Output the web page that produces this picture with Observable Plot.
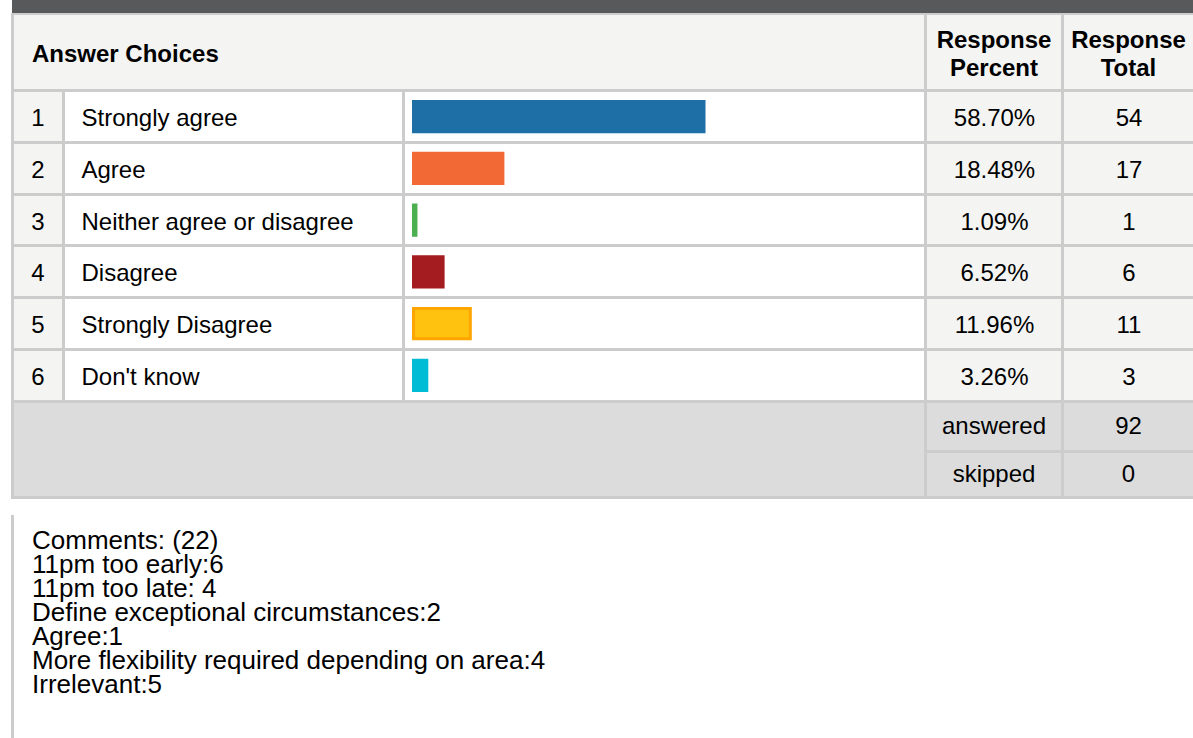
<!DOCTYPE html>
<html><head><meta charset="utf-8">
<script src="https://cdn.jsdelivr.net/npm/d3@7"></script>
<script src="https://cdn.jsdelivr.net/npm/@observablehq/plot@0.6"></script>
<style>
html,body{margin:0;padding:0;background:#fff;}
#page{position:relative;width:1193px;height:738px;overflow:hidden;font-family:"Liberation Sans",Arial,Helvetica,sans-serif;color:#000;}
.abs{position:absolute;box-sizing:border-box;}
.cell{display:flex;align-items:center;justify-content:center;text-align:center;font-size:24px;line-height:28px;}
.bold{font-weight:bold;padding-top:4px;}
#chart{position:absolute;left:0;top:0;}
#comments{position:absolute;left:32px;top:528px;font-size:26px;line-height:24px;white-space:pre;}
</style></head>
<body><div id="page"></div>
<script>
// ---- data ----
const choiceNumbers = [1, 2, 3, 4, 5, 6];
const choiceLabels = ["Strongly agree", "Agree", "Neither agree or disagree", "Disagree", "Strongly Disagree", "Don't know"];
const responsePercent = [58.70, 18.48, 1.09, 6.52, 11.96, 3.26];
const responseTotal = [54, 17, 1, 6, 11, 3];
const barColors = ["#1d6fa5", "#f26935", "#4caf50", "#a51c20", "#ffc20e", "#00bcd4"];
const barBorders = [null, null, null, null, "#ffa500", null];
const headerLabels = ["Answer Choices", "Response\nPercent", "Response\nTotal"];
const summaryLabels = ["answered", "skipped"];
const summaryValues = [92, 0];
const commentsTitle = "Comments: (22)";
const comments = ["11pm too early:6", "11pm too late: 4", "Define exceptional circumstances:2", "Agree:1", "More flexibility required depending on area:4", "Irrelevant:5"];

const rows = choiceLabels.map((label, i) => ({
  num: choiceNumbers[i], label, pct: responsePercent[i], total: responseTotal[i], border: barBorders[i]
}));

// ---- layout (table chrome) ----
const page = document.getElementById("page");
function box(l, t, r, b, bg, cls, text) {
  const d = document.createElement("div");
  d.className = "abs" + (cls ? " " + cls : "");
  Object.assign(d.style, {left: l + "px", top: t + "px", width: (r - l) + "px", height: (b - t) + "px", background: bg});
  if (text !== undefined) d.innerText = text;
  page.appendChild(d);
  return d;
}
const W = 1193;
const lineC = "#cccccc", light = "#f4f4f3", summaryBg = "#dcdcdc";
const cols = [[14, 62], [65, 402], [405, 924], [927, 1061], [1064, W]];
const rowTop = 90.5, rowStep = 51.75, rowsBottom = rowTop + rowStep * choiceLabels.length;

box(12, 0, W, 13, "#58595b");            // dark top strip
box(11, 13, W, 499, lineC);               // grid line backdrop
// header
const hA = box(14, 15, 924, 89, light, "cell bold");
hA.style.justifyContent = "flex-start"; hA.style.paddingLeft = "18px"; hA.innerText = headerLabels[0];
box(927, 15, 1061, 89, light, "cell bold", headerLabels[1]);
box(1064, 15, W, 89, light, "cell bold", headerLabels[2]);
// body cells
choiceLabels.forEach((_, i) => {
  const t = rowTop + rowStep * i + 1.5, b = rowTop + rowStep * (i + 1) - 1.5;
  [light, "#fff", "#fff", light, light].forEach((bg, c) => box(cols[c][0], t, cols[c][1], b, bg));
});
// summary
const sTop = rowsBottom + 1.5, sMid = 451, sBot = 496;
box(14, sTop, 924, sBot, summaryBg);
box(927, sTop, 1061, sMid - 1.5, summaryBg, "cell", summaryLabels[0]);
box(1064, sTop, W, sMid - 1.5, summaryBg, "cell", String(summaryValues[0]));
box(927, sMid + 1.5, 1061, sBot, summaryBg, "cell", summaryLabels[1]);
box(1064, sMid + 1.5, W, sBot, summaryBg, "cell", String(summaryValues[1]));
// comments block
box(11, 515, 14, 738, lineC);
const cm = document.createElement("div");
cm.id = "comments";
cm.textContent = [commentsTitle, ...comments].join("\n");
page.appendChild(cm);

// ---- Plot: bars and row texts ----
const font = {fontSize: 24, dy: 1.5};
const chart = Plot.plot({
  width: W, height: 500, margin: 0,
  style: {background: "transparent", fontFamily: "'Liberation Sans', Arial, sans-serif", color: "#000"},
  x: {domain: [0, 100], range: [412, 912], axis: null},
  y: {type: "band", domain: choiceLabels, range: [rowTop, rowsBottom], padding: 0, round: false, axis: null},
  color: {type: "ordinal", domain: choiceLabels, range: barColors},
  marks: [
    Plot.barX(rows, {filter: d => !d.border, x: "pct", y: "label", fill: "label", insetTop: 9.5, insetBottom: 9}),
    ...rows.filter(d => d.border).map(d => Plot.barX([d], {x: "pct", y: "label", fill: "label", stroke: d.border, strokeWidth: 3,
      insetTop: 11, insetBottom: 10.5, insetLeft: 1.5, insetRight: 1.5})),
    Plot.text(rows, {y: "label", text: d => String(d.num), frameAnchor: "left", dx: 37.5, textAnchor: "middle", ...font}),
    Plot.text(rows, {y: "label", text: "label", frameAnchor: "left", dx: 81, textAnchor: "start", ...font}),
    Plot.text(rows, {y: "label", text: d => d.pct.toFixed(2) + "%", frameAnchor: "left", dx: 994, textAnchor: "middle", ...font}),
    Plot.text(rows, {y: "label", text: d => String(d.total), frameAnchor: "left", dx: 1128.5, textAnchor: "middle", ...font})
  ]
});
chart.id = "chart";
page.appendChild(chart);
</script>
</body></html>
